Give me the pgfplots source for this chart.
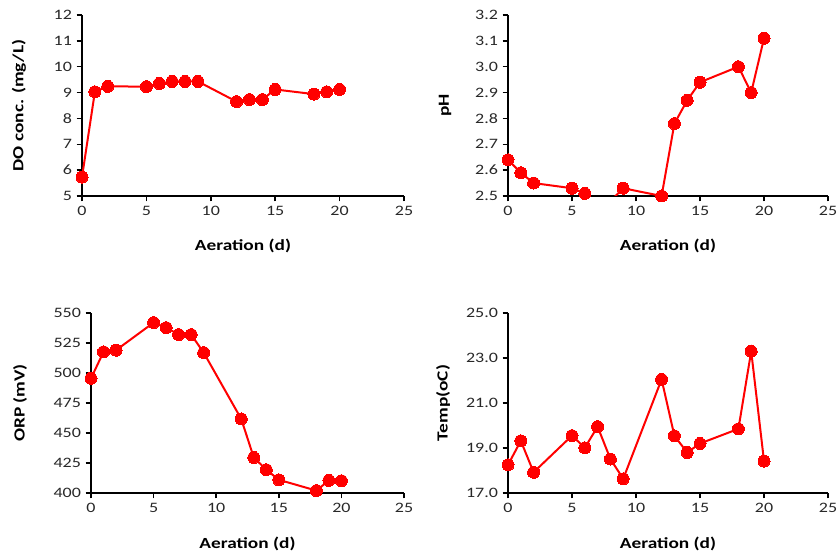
\documentclass[border=0pt]{standalone}
\usepackage{pgfplots}
\pgfplotsset{compat=1.18}
\usepackage{fontspec}
\setmainfont{Carlito}[FakeStretch=1.25]
\definecolor{mred}{RGB}{255,0,0}
\definecolor{tickc}{RGB}{40,40,40}
\pgfplotsset{
  panel/.style={
    scale only axis,
    anchor=south west,
    axis x line*=bottom,
    axis y line*=left,
    axis line style={black, line width=1.1pt},
    xmin=0, xmax=25,
    xtick={0,5,10,15,20,25},
    tick align=outside,
    major tick length=4pt,
    tick style={black, line width=1.1pt},
    tick label style={font=\fontsize{10.8}{12}\selectfont, text=tickc},
    label style={font=\fontsize{11.6}{13}\selectfont\bfseries},
    /pgf/number format/assume math mode=true,
    clip mode=individual,
  },
  ser/.style={color=mred, line width=1.5pt, mark=*, mark size=4.5pt, mark options={fill=mred, draw=mred, line width=0pt}},
}
\begin{document}
\begin{tikzpicture}
\path[use as bounding box] (0,0) rectangle (628.5pt,414.75pt);
% DO
\begin{axis}[panel, at={(61.5pt,267.75pt)}, width=241.5pt, height=135.75pt,
  ymin=5, ymax=12, ytick={5,6,...,12},
  xlabel={Aeration (d)}, ylabel={DO conc. (mg/L)},
  xlabel style={at={(axis description cs:0.5,-0.276)}, anchor=center},
  ylabel style={at={(axis description cs:-0.196,0.5)}, anchor=center}]
\addplot[ser] coordinates {(0,5.73) (1,9.03) (2,9.24) (5,9.23) (6,9.35) (7,9.43) (8,9.43) (9,9.43) (12,8.65) (13,8.73) (14,8.73) (15,9.12) (18,8.94) (19,9.03) (20,9.12)};
\end{axis}
% pH
\begin{axis}[panel, at={(381pt,267.75pt)}, width=240pt, height=135.75pt,
  ymin=2.5, ymax=3.2, ytick={2.5,2.6,...,3.21},
  yticklabel style={/pgf/number format/.cd, fixed, fixed zerofill, precision=1},
  xlabel={Aeration (d)}, ylabel={pH},
  xlabel style={at={(axis description cs:0.5,-0.276)}, anchor=center},
  ylabel style={at={(axis description cs:-0.197,0.5)}, anchor=center}]
\addplot[color=mred, line width=1.5pt, mark=none] coordinates {(0,2.64) (1,2.59) (2,2.55) (5,2.53) (6,2.51) (7,2.48) (8,2.48) (9,2.53) (12,2.50) (13,2.78) (14,2.87) (15,2.94) (18,3.00) (19,2.90) (20,3.11)};
\addplot[ser, only marks, restrict y to domain=2.495:3.3] coordinates {(0,2.64) (1,2.59) (2,2.55) (5,2.53) (6,2.51) (7,2.48) (8,2.48) (9,2.53) (12,2.50) (13,2.78) (14,2.87) (15,2.94) (18,3.00) (19,2.90) (20,3.11)};
\end{axis}
% ORP
\begin{axis}[panel, at={(68.25pt,45pt)}, width=234.75pt, height=135pt,
  ymin=400, ymax=550, ytick={400,425,...,550},
  xlabel={Aeration (d)}, ylabel={ORP (mV)},
  xlabel style={at={(axis description cs:0.5,-0.283)}, anchor=center},
  ylabel style={at={(axis description cs:-0.227,0.5)}, anchor=center}]
\addplot[ser] coordinates {(0,495.5) (1,517.6) (2,519) (5,542) (6,537.8) (7,532) (8,532) (9,517) (12,461.7) (13,429.6) (14,419.4) (15,411) (18,402) (19,410.5) (20,410.2)};
\end{axis}
% Temp
\begin{axis}[panel, at={(381pt,45pt)}, width=240pt, height=135pt,
  ymin=17, ymax=25, ytick={17,19,...,25},
  yticklabel style={/pgf/number format/.cd, fixed, fixed zerofill, precision=1},
  xlabel={Aeration (d)}, ylabel={Temp(oC)},
  xlabel style={at={(axis description cs:0.5,-0.283)}, anchor=center},
  ylabel style={at={(axis description cs:-0.203,0.5)}, anchor=center}]
\addplot[ser] coordinates {(0,18.25) (1,19.32) (2,17.92) (5,19.55) (6,19.01) (7,19.95) (8,18.51) (9,17.63) (12,22.05) (13,19.54) (14,18.80) (15,19.20) (18,19.85) (19,23.30) (20,18.42)};
\end{axis}
\end{tikzpicture}
\end{document}
